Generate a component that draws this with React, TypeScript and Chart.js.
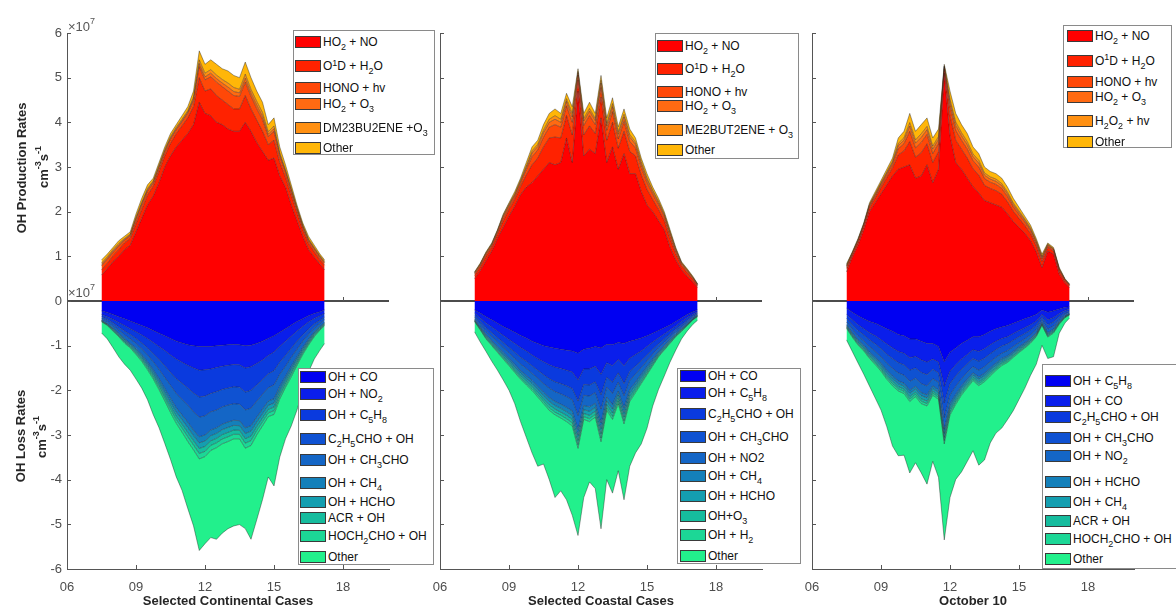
import React, { useEffect, useRef } from 'react';
import { Chart, registerables } from 'chart.js';
Chart.register(...registerables);

const FONT = '"Liberation Sans", Arial, Helvetica, sans-serif';

// ---------------- shared axes ----------------
const TIME_H = [7.5, 7.75, 8, 8.25, 8.5, 8.75, 9, 9.25, 9.5, 9.75, 10, 10.25, 10.5, 10.75, 11, 11.25, 11.5, 11.75, 12, 12.25, 12.5, 12.75, 13, 13.25, 13.5, 13.75, 14, 14.25, 14.5, 14.75, 15, 15.25, 15.5, 15.75, 16, 16.25, 16.5, 16.75, 17, 17.2];
const X_TICKS = [6, 9, 12, 15, 18];
const X_TICK_LABELS = ['06', '09', '12', '15', '18'];
const Y_TICKS = [-6, -5, -4, -3, -2, -1, 0, 1, 2, 3, 4, 5, 6];

// ---------------- Selected Continental Cases (x1e7 cm-3 s-1) ----------------
const CONT_P_HO2NO = [0.58, 0.72, 0.88, 1.0, 1.15, 1.25, 1.55, 1.85, 2.15, 2.35, 2.65, 3.0, 3.25, 3.45, 3.6, 3.75, 3.95, 4.45, 4.2, 4.15, 4.0, 3.95, 3.85, 3.8, 3.8, 4.0, 3.8, 3.55, 3.35, 3.15, 3.2, 2.8, 2.55, 2.15, 1.8, 1.45, 1.15, 0.98, 0.82, 0.7];
const CONT_P_O1D = [0.12, 0.12, 0.13, 0.15, 0.15, 0.15, 0.18, 0.2, 0.22, 0.22, 0.25, 0.25, 0.28, 0.3, 0.32, 0.35, 0.4, 0.55, 0.5, 0.6, 0.6, 0.55, 0.55, 0.5, 0.5, 0.6, 0.5, 0.5, 0.45, 0.35, 0.4, 0.3, 0.22, 0.22, 0.18, 0.15, 0.14, 0.12, 0.1, 0.1];
const CONT_P_HONO = [0.09, 0.09, 0.08, 0.08, 0.06, 0.06, 0.09, 0.1, 0.09, 0.07, 0.08, 0.08, 0.09, 0.08, 0.09, 0.1, 0.14, 0.25, 0.25, 0.27, 0.3, 0.3, 0.3, 0.3, 0.28, 0.3, 0.28, 0.26, 0.26, 0.18, 0.2, 0.14, 0.11, 0.09, 0.07, 0.06, 0.06, 0.06, 0.05, 0.05];
const CONT_P_HO2O3 = [0.03, 0.03, 0.03, 0.03, 0.02, 0.02, 0.03, 0.03, 0.03, 0.03, 0.03, 0.03, 0.03, 0.03, 0.03, 0.03, 0.04, 0.07, 0.07, 0.08, 0.08, 0.08, 0.09, 0.09, 0.08, 0.09, 0.08, 0.08, 0.08, 0.05, 0.06, 0.04, 0.03, 0.03, 0.02, 0.02, 0.02, 0.02, 0.02, 0.02];
const CONT_P_DM23 = [0.03, 0.03, 0.03, 0.03, 0.02, 0.02, 0.03, 0.03, 0.03, 0.02, 0.03, 0.03, 0.03, 0.03, 0.03, 0.03, 0.04, 0.08, 0.08, 0.08, 0.08, 0.08, 0.09, 0.09, 0.08, 0.09, 0.08, 0.08, 0.08, 0.06, 0.06, 0.04, 0.03, 0.03, 0.02, 0.02, 0.02, 0.02, 0.02, 0.02];
const CONT_P_OTHER = [0.07, 0.06, 0.05, 0.06, 0.05, 0.05, 0.07, 0.09, 0.08, 0.06, 0.06, 0.06, 0.07, 0.06, 0.08, 0.09, 0.13, 0.2, 0.2, 0.22, 0.24, 0.24, 0.27, 0.27, 0.26, 0.27, 0.26, 0.23, 0.23, 0.16, 0.18, 0.13, 0.11, 0.08, 0.06, 0.05, 0.06, 0.05, 0.04, 0.03];

const CONT_L_CO = [0.22, 0.26, 0.3, 0.35, 0.4, 0.45, 0.5, 0.55, 0.6, 0.66, 0.72, 0.78, 0.84, 0.9, 0.94, 0.98, 1.0, 1.02, 1.02, 1.02, 1.0, 0.99, 0.98, 0.97, 0.98, 1.0, 0.99, 0.95, 0.9, 0.84, 0.78, 0.7, 0.62, 0.54, 0.46, 0.4, 0.33, 0.28, 0.24, 0.2];
const CONT_L_NO2 = [0.08, 0.09, 0.11, 0.13, 0.15, 0.17, 0.19, 0.21, 0.24, 0.27, 0.3, 0.33, 0.37, 0.4, 0.43, 0.46, 0.5, 0.53, 0.52, 0.5, 0.49, 0.47, 0.46, 0.45, 0.45, 0.5, 0.48, 0.45, 0.42, 0.38, 0.36, 0.32, 0.28, 0.25, 0.21, 0.17, 0.14, 0.11, 0.09, 0.08];
const CONT_L_C5H8 = [0.05, 0.06, 0.08, 0.1, 0.12, 0.13, 0.15, 0.18, 0.21, 0.25, 0.29, 0.34, 0.39, 0.44, 0.47, 0.51, 0.56, 0.6, 0.59, 0.55, 0.54, 0.52, 0.51, 0.5, 0.5, 0.54, 0.53, 0.48, 0.44, 0.41, 0.42, 0.35, 0.32, 0.27, 0.23, 0.19, 0.16, 0.12, 0.1, 0.08];
const CONT_L_C2H5CHO = [0.04, 0.045, 0.06, 0.07, 0.09, 0.1, 0.11, 0.13, 0.16, 0.18, 0.22, 0.26, 0.29, 0.33, 0.36, 0.38, 0.42, 0.45, 0.44, 0.41, 0.41, 0.39, 0.38, 0.38, 0.38, 0.4, 0.4, 0.36, 0.33, 0.31, 0.32, 0.27, 0.24, 0.2, 0.18, 0.14, 0.12, 0.09, 0.07, 0.06];
const CONT_L_CH3CHO = [0.035, 0.045, 0.055, 0.07, 0.085, 0.1, 0.11, 0.13, 0.15, 0.18, 0.21, 0.25, 0.29, 0.32, 0.35, 0.38, 0.41, 0.44, 0.43, 0.41, 0.4, 0.39, 0.38, 0.37, 0.37, 0.4, 0.39, 0.36, 0.33, 0.3, 0.31, 0.27, 0.23, 0.2, 0.17, 0.14, 0.11, 0.09, 0.07, 0.06];
const CONT_L_CH4 = [0.012, 0.014, 0.02, 0.023, 0.028, 0.028, 0.038, 0.042, 0.05, 0.057, 0.068, 0.077, 0.088, 0.096, 0.107, 0.12, 0.123, 0.137, 0.134, 0.126, 0.123, 0.121, 0.121, 0.115, 0.112, 0.126, 0.123, 0.11, 0.104, 0.097, 0.097, 0.079, 0.068, 0.066, 0.053, 0.044, 0.035, 0.031, 0.022, 0.02];
const CONT_L_HCHO = [0.01, 0.012, 0.018, 0.02, 0.025, 0.025, 0.035, 0.038, 0.045, 0.052, 0.062, 0.07, 0.08, 0.088, 0.098, 0.11, 0.112, 0.125, 0.122, 0.115, 0.112, 0.11, 0.11, 0.105, 0.102, 0.115, 0.112, 0.1, 0.095, 0.088, 0.088, 0.072, 0.062, 0.06, 0.048, 0.04, 0.032, 0.028, 0.02, 0.018];
const CONT_L_ACR = [0.009, 0.011, 0.016, 0.018, 0.023, 0.023, 0.032, 0.035, 0.041, 0.047, 0.056, 0.063, 0.072, 0.079, 0.088, 0.099, 0.1, 0.112, 0.11, 0.103, 0.1, 0.099, 0.099, 0.094, 0.092, 0.103, 0.1, 0.09, 0.085, 0.079, 0.079, 0.065, 0.056, 0.054, 0.043, 0.036, 0.029, 0.025, 0.018, 0.016];
const CONT_L_HOCH2CHO = [0.009, 0.011, 0.016, 0.019, 0.024, 0.024, 0.033, 0.036, 0.044, 0.05, 0.06, 0.068, 0.078, 0.085, 0.095, 0.106, 0.11, 0.122, 0.118, 0.112, 0.11, 0.107, 0.107, 0.102, 0.1, 0.112, 0.11, 0.098, 0.093, 0.086, 0.086, 0.07, 0.06, 0.058, 0.047, 0.039, 0.031, 0.027, 0.019, 0.017];
const CONT_L_OTHER = [0.25, 0.3, 0.37, 0.45, 0.47, 0.5, 0.55, 0.6, 0.67, 0.8, 0.85, 0.95, 1.05, 1.2, 1.3, 1.5, 1.7, 2.05, 1.95, 1.95, 2.05, 2.0, 1.95, 1.95, 1.92, 1.8, 2.1, 1.9, 1.65, 1.35, 1.6, 1.3, 1.15, 1.1, 1.0, 0.8, 0.6, 0.5, 0.45, 0.4];

// ---------------- Selected Coastal Cases ----------------
const COAST_P_HO2NO = [0.5, 0.68, 0.9, 1.12, 1.4, 1.65, 1.9, 2.12, 2.38, 2.55, 2.65, 2.8, 2.95, 3.1, 3.05, 3.1, 3.65, 3.1, 4.7, 3.25, 3.4, 3.3, 4.1, 3.1, 3.45, 2.95, 3.3, 2.85, 2.85, 2.45, 2.15, 2.0, 1.8, 1.6, 1.2, 0.92, 0.7, 0.55, 0.42, 0.3];
const COAST_P_O1D = [0.07, 0.08, 0.1, 0.09, 0.1, 0.15, 0.15, 0.16, 0.18, 0.27, 0.4, 0.4, 0.5, 0.55, 0.62, 0.55, 0.5, 0.62, 0.25, 0.47, 0.52, 0.45, 0.47, 0.5, 0.55, 0.47, 0.5, 0.5, 0.4, 0.37, 0.35, 0.27, 0.25, 0.2, 0.2, 0.14, 0.09, 0.08, 0.06, 0.04];
const COAST_P_HONO = [0.04, 0.04, 0.05, 0.04, 0.05, 0.07, 0.07, 0.07, 0.08, 0.12, 0.18, 0.18, 0.22, 0.24, 0.28, 0.24, 0.22, 0.28, 0.11, 0.21, 0.23, 0.2, 0.21, 0.22, 0.24, 0.21, 0.22, 0.22, 0.18, 0.17, 0.15, 0.12, 0.11, 0.09, 0.09, 0.06, 0.04, 0.04, 0.03, 0.02];
const COAST_P_HO2O3 = [0.02, 0.02, 0.02, 0.02, 0.02, 0.03, 0.03, 0.03, 0.04, 0.05, 0.08, 0.08, 0.1, 0.11, 0.12, 0.11, 0.1, 0.12, 0.05, 0.1, 0.1, 0.09, 0.1, 0.1, 0.11, 0.1, 0.1, 0.1, 0.08, 0.08, 0.07, 0.06, 0.05, 0.04, 0.04, 0.03, 0.02, 0.02, 0.01, 0.01];
const COAST_P_ME2 = [0.01, 0.01, 0.01, 0.01, 0.01, 0.02, 0.02, 0.02, 0.02, 0.03, 0.05, 0.05, 0.06, 0.07, 0.08, 0.07, 0.06, 0.08, 0.03, 0.06, 0.06, 0.05, 0.06, 0.06, 0.07, 0.06, 0.06, 0.06, 0.05, 0.05, 0.04, 0.03, 0.03, 0.02, 0.02, 0.02, 0.01, 0.01, 0.01, 0.005];
const COAST_P_OTHER = [0.01, 0.02, 0.02, 0.02, 0.02, 0.03, 0.03, 0.05, 0.05, 0.08, 0.09, 0.09, 0.12, 0.13, 0.15, 0.13, 0.12, 0.15, 0.06, 0.11, 0.14, 0.11, 0.11, 0.12, 0.13, 0.11, 0.12, 0.12, 0.09, 0.08, 0.09, 0.07, 0.06, 0.05, 0.05, 0.03, 0.02, 0.02, 0.02, 0.01];

const COAST_L_CO = [0.2, 0.27, 0.35, 0.42, 0.5, 0.57, 0.63, 0.7, 0.77, 0.83, 0.9, 0.95, 1.0, 1.03, 1.06, 1.08, 1.1, 1.12, 1.17, 1.08, 1.06, 1.02, 1.05, 0.97, 0.98, 0.93, 0.95, 0.9, 0.87, 0.83, 0.78, 0.72, 0.66, 0.6, 0.54, 0.46, 0.38, 0.3, 0.24, 0.2];
const COAST_L_C5H8 = [0.07, 0.11, 0.14, 0.16, 0.18, 0.2, 0.23, 0.25, 0.27, 0.29, 0.31, 0.34, 0.36, 0.4, 0.42, 0.43, 0.45, 0.47, 0.6, 0.44, 0.46, 0.44, 0.59, 0.41, 0.47, 0.38, 0.5, 0.38, 0.33, 0.29, 0.24, 0.2, 0.17, 0.14, 0.11, 0.1, 0.08, 0.07, 0.05, 0.04];
const COAST_L_C2H5CHO = [0.06, 0.08, 0.11, 0.13, 0.14, 0.16, 0.18, 0.2, 0.22, 0.23, 0.24, 0.26, 0.29, 0.31, 0.33, 0.34, 0.35, 0.37, 0.47, 0.35, 0.36, 0.35, 0.46, 0.33, 0.37, 0.3, 0.4, 0.3, 0.26, 0.22, 0.19, 0.16, 0.13, 0.11, 0.09, 0.07, 0.07, 0.06, 0.04, 0.03];
const COAST_L_CH3CHO = [0.04, 0.06, 0.08, 0.09, 0.1, 0.11, 0.12, 0.14, 0.15, 0.16, 0.17, 0.18, 0.2, 0.21, 0.22, 0.23, 0.24, 0.25, 0.32, 0.24, 0.25, 0.24, 0.32, 0.22, 0.25, 0.21, 0.27, 0.2, 0.18, 0.15, 0.13, 0.11, 0.09, 0.08, 0.06, 0.05, 0.05, 0.04, 0.03, 0.02];
const COAST_L_NO2 = [0.04, 0.06, 0.07, 0.09, 0.1, 0.11, 0.12, 0.13, 0.15, 0.16, 0.16, 0.18, 0.19, 0.21, 0.22, 0.23, 0.24, 0.25, 0.32, 0.23, 0.24, 0.24, 0.31, 0.22, 0.25, 0.2, 0.27, 0.2, 0.18, 0.15, 0.13, 0.11, 0.09, 0.07, 0.06, 0.05, 0.04, 0.04, 0.03, 0.02];
const COAST_L_CH4 = [0.015, 0.02, 0.03, 0.033, 0.04, 0.045, 0.05, 0.055, 0.057, 0.063, 0.066, 0.072, 0.078, 0.087, 0.09, 0.093, 0.096, 0.1, 0.126, 0.093, 0.1, 0.093, 0.126, 0.09, 0.1, 0.084, 0.108, 0.081, 0.07, 0.063, 0.054, 0.045, 0.033, 0.03, 0.027, 0.021, 0.018, 0.012, 0.009, 0.012];
const COAST_L_HCHO = [0.013, 0.019, 0.027, 0.03, 0.035, 0.04, 0.046, 0.049, 0.051, 0.057, 0.059, 0.065, 0.07, 0.078, 0.081, 0.084, 0.086, 0.092, 0.113, 0.084, 0.089, 0.084, 0.113, 0.081, 0.089, 0.076, 0.097, 0.073, 0.062, 0.057, 0.049, 0.04, 0.03, 0.027, 0.024, 0.019, 0.016, 0.011, 0.008, 0.011];
const COAST_L_O3 = [0.012, 0.016, 0.023, 0.025, 0.03, 0.035, 0.039, 0.041, 0.044, 0.048, 0.051, 0.055, 0.06, 0.067, 0.069, 0.071, 0.074, 0.078, 0.097, 0.071, 0.076, 0.071, 0.097, 0.069, 0.076, 0.064, 0.083, 0.062, 0.053, 0.048, 0.041, 0.035, 0.025, 0.023, 0.021, 0.016, 0.014, 0.009, 0.007, 0.009];
const COAST_L_H2 = [0.01, 0.014, 0.02, 0.022, 0.026, 0.03, 0.034, 0.036, 0.038, 0.042, 0.044, 0.048, 0.052, 0.058, 0.06, 0.062, 0.064, 0.068, 0.084, 0.062, 0.066, 0.062, 0.084, 0.06, 0.066, 0.056, 0.072, 0.054, 0.046, 0.042, 0.036, 0.03, 0.022, 0.02, 0.018, 0.014, 0.012, 0.008, 0.006, 0.008];
const COAST_L_OTHER = [0.23, 0.27, 0.28, 0.35, 0.4, 0.47, 0.55, 0.7, 0.95, 1.17, 1.4, 1.55, 1.35, 1.55, 1.85, 1.63, 1.75, 2.0, 1.95, 1.75, 1.35, 1.6, 1.95, 1.55, 1.65, 1.5, 1.7, 1.45, 1.35, 1.35, 1.2, 0.9, 0.73, 0.58, 0.42, 0.3, 0.17, 0.12, 0.1, 0.08];

// ---------------- October 10 ----------------
const OCT_P_HO2NO = [0.65, 0.98, 1.25, 1.6, 2.0, 2.2, 2.4, 2.6, 2.8, 2.95, 3.0, 3.05, 2.75, 2.8, 3.05, 2.65, 2.95, 5.1, 3.7, 3.1, 2.95, 2.75, 2.56, 2.42, 2.25, 2.2, 2.15, 2.1, 1.95, 1.78, 1.65, 1.52, 1.35, 1.1, 0.75, 1.12, 1.05, 0.6, 0.4, 0.3];
const OCT_P_O1D = [0.08, 0.05, 0.07, 0.07, 0.09, 0.11, 0.14, 0.16, 0.18, 0.32, 0.36, 0.52, 0.47, 0.52, 0.47, 0.45, 0.4, 0.09, 0.45, 0.5, 0.45, 0.45, 0.4, 0.4, 0.34, 0.32, 0.32, 0.29, 0.27, 0.23, 0.2, 0.17, 0.16, 0.14, 0.14, 0.08, 0.07, 0.07, 0.05, 0.04];
const OCT_P_HONO = [0.04, 0.03, 0.03, 0.03, 0.04, 0.05, 0.06, 0.07, 0.08, 0.14, 0.16, 0.23, 0.21, 0.23, 0.21, 0.2, 0.18, 0.04, 0.2, 0.22, 0.2, 0.2, 0.18, 0.18, 0.15, 0.14, 0.14, 0.13, 0.12, 0.1, 0.09, 0.08, 0.07, 0.06, 0.06, 0.04, 0.03, 0.03, 0.02, 0.015];
const OCT_P_HO2O3 = [0.02, 0.01, 0.015, 0.015, 0.02, 0.025, 0.03, 0.035, 0.04, 0.07, 0.08, 0.115, 0.105, 0.115, 0.105, 0.1, 0.09, 0.02, 0.1, 0.11, 0.1, 0.1, 0.09, 0.09, 0.075, 0.07, 0.07, 0.065, 0.06, 0.05, 0.045, 0.04, 0.035, 0.03, 0.03, 0.02, 0.015, 0.015, 0.01, 0.008];
const OCT_P_H2O2 = [0.01, 0.01, 0.01, 0.01, 0.014, 0.018, 0.02, 0.025, 0.028, 0.05, 0.056, 0.08, 0.074, 0.08, 0.074, 0.07, 0.063, 0.014, 0.07, 0.077, 0.07, 0.07, 0.062, 0.062, 0.052, 0.05, 0.05, 0.045, 0.042, 0.036, 0.032, 0.027, 0.025, 0.021, 0.021, 0.013, 0.01, 0.01, 0.007, 0.006];
const OCT_P_OTHER = [0.03, 0.02, 0.025, 0.025, 0.036, 0.047, 0.05, 0.06, 0.072, 0.12, 0.144, 0.205, 0.19, 0.205, 0.19, 0.18, 0.167, 0.036, 0.18, 0.193, 0.18, 0.18, 0.158, 0.148, 0.133, 0.12, 0.12, 0.12, 0.108, 0.104, 0.083, 0.063, 0.06, 0.049, 0.049, 0.027, 0.025, 0.025, 0.013, 0.011];

const OCT_L_C5H8 = [0.16, 0.25, 0.33, 0.4, 0.46, 0.5, 0.56, 0.62, 0.68, 0.75, 0.78, 0.85, 0.85, 0.9, 0.95, 0.95, 1.02, 1.36, 1.15, 1.05, 0.95, 0.88, 0.8, 0.8, 0.75, 0.68, 0.62, 0.58, 0.55, 0.5, 0.45, 0.4, 0.35, 0.3, 0.2, 0.25, 0.22, 0.18, 0.14, 0.13];
const OCT_L_CO = [0.14, 0.17, 0.2, 0.22, 0.25, 0.28, 0.31, 0.34, 0.37, 0.38, 0.39, 0.42, 0.39, 0.42, 0.42, 0.35, 0.35, 0.55, 0.42, 0.38, 0.35, 0.32, 0.29, 0.33, 0.32, 0.3, 0.28, 0.26, 0.25, 0.23, 0.21, 0.2, 0.18, 0.15, 0.1, 0.17, 0.15, 0.1, 0.07, 0.05];
const OCT_L_C2H5CHO = [0.09, 0.11, 0.13, 0.14, 0.16, 0.18, 0.2, 0.23, 0.24, 0.25, 0.26, 0.28, 0.26, 0.28, 0.28, 0.23, 0.24, 0.37, 0.28, 0.25, 0.23, 0.21, 0.2, 0.22, 0.21, 0.2, 0.19, 0.17, 0.16, 0.15, 0.14, 0.13, 0.12, 0.1, 0.07, 0.11, 0.1, 0.07, 0.05, 0.04];
const OCT_L_CH3CHO = [0.08, 0.1, 0.12, 0.13, 0.15, 0.17, 0.18, 0.2, 0.22, 0.23, 0.23, 0.25, 0.23, 0.25, 0.25, 0.21, 0.21, 0.33, 0.25, 0.23, 0.21, 0.19, 0.18, 0.2, 0.19, 0.18, 0.17, 0.16, 0.15, 0.14, 0.13, 0.12, 0.11, 0.09, 0.06, 0.1, 0.09, 0.06, 0.04, 0.03];
const OCT_L_NO2 = [0.06, 0.08, 0.09, 0.1, 0.12, 0.13, 0.14, 0.16, 0.17, 0.18, 0.18, 0.2, 0.18, 0.2, 0.2, 0.16, 0.17, 0.26, 0.2, 0.18, 0.16, 0.15, 0.14, 0.15, 0.15, 0.14, 0.13, 0.12, 0.12, 0.11, 0.1, 0.09, 0.08, 0.07, 0.05, 0.08, 0.07, 0.05, 0.03, 0.03];
const OCT_L_HCHO = [0.023, 0.028, 0.033, 0.036, 0.041, 0.046, 0.051, 0.057, 0.061, 0.063, 0.065, 0.07, 0.065, 0.07, 0.07, 0.059, 0.059, 0.092, 0.07, 0.063, 0.058, 0.054, 0.049, 0.055, 0.053, 0.05, 0.047, 0.044, 0.041, 0.038, 0.035, 0.033, 0.03, 0.025, 0.018, 0.028, 0.025, 0.017, 0.012, 0.009];
const OCT_L_CH4 = [0.022, 0.027, 0.032, 0.036, 0.04, 0.045, 0.05, 0.056, 0.06, 0.062, 0.064, 0.069, 0.064, 0.069, 0.069, 0.058, 0.058, 0.09, 0.069, 0.062, 0.057, 0.053, 0.048, 0.054, 0.052, 0.049, 0.046, 0.043, 0.04, 0.037, 0.034, 0.032, 0.029, 0.024, 0.017, 0.027, 0.024, 0.016, 0.011, 0.009];
const OCT_L_ACR = [0.018, 0.022, 0.026, 0.029, 0.033, 0.037, 0.041, 0.045, 0.049, 0.05, 0.052, 0.056, 0.052, 0.056, 0.056, 0.047, 0.047, 0.074, 0.056, 0.05, 0.046, 0.043, 0.039, 0.044, 0.042, 0.04, 0.037, 0.035, 0.033, 0.03, 0.028, 0.026, 0.024, 0.02, 0.014, 0.022, 0.02, 0.014, 0.01, 0.007];
const OCT_L_HOCH2CHO = [0.018, 0.021, 0.025, 0.028, 0.032, 0.036, 0.04, 0.044, 0.048, 0.05, 0.051, 0.055, 0.051, 0.055, 0.055, 0.046, 0.046, 0.073, 0.055, 0.049, 0.045, 0.042, 0.038, 0.043, 0.041, 0.039, 0.036, 0.034, 0.032, 0.03, 0.027, 0.025, 0.023, 0.019, 0.014, 0.021, 0.019, 0.013, 0.009, 0.007];
const OCT_L_OTHER = [0.26, 0.32, 0.4, 0.52, 0.62, 0.75, 0.87, 1.06, 1.35, 1.45, 1.38, 1.6, 1.48, 1.55, 1.75, 1.48, 1.75, 2.15, 1.85, 1.68, 1.72, 1.65, 1.57, 1.78, 1.75, 1.5, 1.4, 1.4, 1.28, 1.19, 1.05, 0.9, 0.72, 0.62, 0.45, 0.48, 0.53, 0.2, 0.12, 0.07];

// ---------------- labels ----------------
const CONT_PROD_LABELS = ['HO_{2} + NO', 'O^{1}D + H_{2}O', 'HONO + hv', 'HO_{2} + O_{3}', 'DM23BU2ENE +O_{3}', 'Other'];
const CONT_LOSS_LABELS = ['OH + CO', 'OH + NO_{2}', 'OH + C_{5}H_{8}', 'C_{2}H_{5}CHO + OH', 'OH + CH_{3}CHO', 'OH + CH_{4}', 'OH + HCHO', 'ACR + OH', 'HOCH_{2}CHO + OH', 'Other'];
const COAST_PROD_LABELS = ['HO_{2} + NO', 'O^{1}D + H_{2}O', 'HONO + hv', 'HO_{2} + O_{3}', 'ME2BUT2ENE + O_{3}', 'Other'];
const COAST_LOSS_LABELS = ['OH + CO', 'OH + C_{5}H_{8}', 'C_{2}H_{5}CHO + OH', 'OH + CH_{3}CHO', 'OH + NO2', 'OH + CH_{4}', 'OH + HCHO', 'OH+O_{3}', 'OH + H_{2}', 'Other'];
const OCT_PROD_LABELS = ['HO_{2} + NO', 'O^{1}D + H_{2}O', 'HONO + hv', 'HO_{2} + O_{3}', 'H_{2}O_{2} + hv', 'Other'];
const OCT_LOSS_LABELS = ['OH + C_{5}H_{8}', 'OH + CO', 'C_{2}H_{5}CHO + OH', 'OH + CH_{3}CHO', 'OH + NO_{2}', 'OH + HCHO', 'OH + CH_{4}', 'ACR + OH', 'HOCH_{2}CHO + OH', 'Other'];

const PROD_COLORS = ['#FF0000', '#FF2200', '#FF4808', '#FF6A12', '#FF9012', '#FFB608'];
const LOSS_COLORS = ['#0000F2', '#0A1EEB', '#0A3ADE', '#0F52D2', '#1466C6', '#1480BA', '#149EB0', '#16BC9E', '#1CD796', '#22F08C'];
const EDGE = 'rgba(20,20,20,0.65)';

type Box = { x: number; y: number; w: number; h: number };
type PanelDef = {
  left: number; width: number; yAxisW: number; rightPad: number; xTitle: string; first: boolean;
  prod: number[][]; loss: number[][]; prodLabels: string[]; lossLabels: string[];
  prodBox: Box; prodRows: number[]; prodSwatchX: number;
  lossBox: Box; lossRows: number[]; lossSwatchX: number;
};

const PANELS: PanelDef[] = [
  {
    left: 0, width: 400, yAxisW: 67, rightPad: 11, xTitle: 'Selected Continental Cases', first: true,
    prod: [CONT_P_HO2NO, CONT_P_O1D, CONT_P_HONO, CONT_P_HO2O3, CONT_P_DM23, CONT_P_OTHER],
    loss: [CONT_L_CO, CONT_L_NO2, CONT_L_C5H8, CONT_L_C2H5CHO, CONT_L_CH3CHO, CONT_L_CH4, CONT_L_HCHO, CONT_L_ACR, CONT_L_HOCH2CHO, CONT_L_OTHER],
    prodLabels: CONT_PROD_LABELS, lossLabels: CONT_LOSS_LABELS,
    prodBox: { x: 293, y: 30, w: 142, h: 125 }, prodRows: [42, 66, 87.5, 104, 127.5, 147.5], prodSwatchX: 295,
    lossBox: { x: 298, y: 368, w: 136, h: 197 }, lossRows: [377, 394, 415, 438.5, 460, 482.5, 501.5, 518, 536, 556.5], lossSwatchX: 300,
  },
  {
    left: 400, width: 376, yAxisW: 40, rightPad: 14, xTitle: 'Selected Coastal Cases', first: false,
    prod: [COAST_P_HO2NO, COAST_P_O1D, COAST_P_HONO, COAST_P_HO2O3, COAST_P_ME2, COAST_P_OTHER],
    loss: [COAST_L_CO, COAST_L_C5H8, COAST_L_C2H5CHO, COAST_L_CH3CHO, COAST_L_NO2, COAST_L_CH4, COAST_L_HCHO, COAST_L_O3, COAST_L_H2, COAST_L_OTHER],
    prodLabels: COAST_PROD_LABELS, lossLabels: COAST_LOSS_LABELS,
    prodBox: { x: 655, y: 33, w: 144, h: 126 }, prodRows: [45.5, 69, 91.5, 106, 129.5, 150], prodSwatchX: 657,
    lossBox: { x: 677, y: 368, w: 124, h: 196 }, lossRows: [376, 392.5, 414, 436.5, 457.5, 475.5, 496, 515.5, 535, 556], lossSwatchX: 680,
  },
  {
    left: 776, width: 400, yAxisW: 36, rightPad: 42, xTitle: 'October 10', first: false,
    prod: [OCT_P_HO2NO, OCT_P_O1D, OCT_P_HONO, OCT_P_HO2O3, OCT_P_H2O2, OCT_P_OTHER],
    loss: [OCT_L_C5H8, OCT_L_CO, OCT_L_C2H5CHO, OCT_L_CH3CHO, OCT_L_NO2, OCT_L_HCHO, OCT_L_CH4, OCT_L_ACR, OCT_L_HOCH2CHO, OCT_L_OTHER],
    prodLabels: OCT_PROD_LABELS, lossLabels: OCT_LOSS_LABELS,
    prodBox: { x: 1063, y: 25, w: 109, h: 123 }, prodRows: [36, 60.5, 82, 96.5, 120.5, 141.5], prodSwatchX: 1067,
    lossBox: { x: 1042, y: 364, w: 140, h: 205 }, lossRows: [381, 400.5, 417, 438, 456, 482, 501.5, 520.5, 538.5, 559], lossSwatchX: 1045,
  },
];

const plain = (s: string) => s.replace(/[_^]\{([^}]*)\}/g, '$1');

function drawParts(ctx: CanvasRenderingContext2D, cx: number, cy: number, parts: [string, boolean][], size: number, bold: boolean, rotate: boolean, color: string) {
  const w = bold ? 'bold ' : '';
  const big = `${w}${size}px ${FONT}`;
  const small = `${w}${Math.round(size * 0.72)}px ${FONT}`;
  const widths = parts.map(([t, sup]) => { ctx.font = sup ? small : big; return ctx.measureText(t).width; });
  const total = widths.reduce((a, b) => a + b, 0);
  ctx.save();
  ctx.translate(cx, cy);
  if (rotate) ctx.rotate(-Math.PI / 2);
  ctx.fillStyle = color;
  ctx.textBaseline = 'middle';
  ctx.textAlign = 'left';
  let x = rotate ? -total / 2 : 0;
  parts.forEach(([t, sup], i) => {
    ctx.font = sup ? small : big;
    ctx.fillText(t, x, sup ? -size * 0.42 : 0);
    x += widths[i];
  });
  ctx.restore();
}

function makeDecor(panel: PanelDef) {
  return {
    id: 'decor',
    beforeDatasetsDraw(chart: any) {
      const { ctx, chartArea, scales } = chart;
      const y0 = Math.round(scales.y.getPixelForValue(0));
      ctx.save();
      ctx.strokeStyle = '#111';
      ctx.lineWidth = 1.6;
      ctx.beginPath();
      ctx.moveTo(chartArea.left, y0);
      ctx.lineTo(chartArea.right, y0);
      ctx.stroke();
      ctx.lineWidth = 1;
      ctx.strokeStyle = '#555';
      X_TICKS.forEach((v) => {
        const x = Math.round(scales.x.getPixelForValue(v)) + 0.5;
        ctx.beginPath();
        ctx.moveTo(x, y0);
        ctx.lineTo(x, y0 - 4);
        ctx.stroke();
      });
      ctx.restore();
    },
    afterDraw(chart: any) {
      const { ctx, chartArea, scales } = chart;
      ctx.save();
      ctx.strokeStyle = '#555';
      ctx.lineWidth = 1;
      Y_TICKS.forEach((v) => {
        const y = Math.round(scales.y.getPixelForValue(v)) + 0.5;
        ctx.beginPath();
        ctx.moveTo(chartArea.left, y);
        ctx.lineTo(chartArea.left + 4, y);
        ctx.stroke();
      });
      X_TICKS.forEach((v) => {
        const x = Math.round(scales.x.getPixelForValue(v)) + 0.5;
        ctx.beginPath();
        ctx.moveTo(x, chartArea.bottom);
        ctx.lineTo(x, chartArea.bottom - 4);
        ctx.stroke();
      });
      ctx.restore();
      // x title
      ctx.save();
      ctx.font = `bold 13px ${FONT}`;
      ctx.fillStyle = '#262626';
      ctx.textAlign = 'center';
      ctx.textBaseline = 'middle';
      ctx.fillText(panel.xTitle, (chartArea.left + chartArea.right) / 2, 601);
      ctx.restore();
      if (panel.first) {
        drawParts(ctx, 22, 168, [['OH Production Rates', false]], 13, true, true, '#262626');
        drawParts(ctx, 44, 167, [['cm', false], ['-3', true], ['s', false], ['-1', true]], 13, true, true, '#262626');
        drawParts(ctx, 21, 436, [['OH Loss Rates', false]], 13, true, true, '#262626');
        drawParts(ctx, 42, 437, [['cm', false], ['-3', true], ['s', false], ['-1', true]], 13, true, true, '#262626');
        drawParts(ctx, 68, 27, [['\u00d710', false], ['7', true]], 13, false, false, '#555');
        drawParts(ctx, 68, 293, [['\u00d710', false], ['7', true]], 13, false, false, '#555');
      }
    },
  };
}

function PanelChart({ panel }: { panel: PanelDef }) {
  const ref = useRef<HTMLCanvasElement>(null);
  useEffect(() => {
    const datasets: any[] = [];
    panel.prod.forEach((vals, i) => {
      datasets.push({
        label: plain(panel.prodLabels[i]),
        data: TIME_H.map((t, k) => ({ x: t, y: vals[k] })),
        backgroundColor: PROD_COLORS[i],
        borderColor: EDGE,
        borderWidth: 0.6,
        pointRadius: 0,
        tension: 0,
        fill: i === 0 ? 'origin' : '-1',
        stack: 'rates',
      });
    });
    panel.loss.forEach((vals, i) => {
      datasets.push({
        label: plain(panel.lossLabels[i]),
        data: TIME_H.map((t, k) => ({ x: t, y: -vals[k] })),
        backgroundColor: LOSS_COLORS[i],
        borderColor: EDGE,
        borderWidth: 0.6,
        pointRadius: 0,
        tension: 0,
        fill: i === 0 ? 'origin' : '-1',
        stack: 'rates',
      });
    });
    const chart = new Chart(ref.current as HTMLCanvasElement, {
      type: 'line',
      data: { datasets },
      options: {
        animation: false,
        responsive: false,
        devicePixelRatio: 1,
        events: [],
        layout: { padding: { top: 33, right: panel.rightPad, bottom: 0, left: 0 } },
        plugins: { legend: { display: false }, tooltip: { enabled: false }, title: { display: false } },
        scales: {
          x: {
            type: 'linear',
            min: 6,
            max: 20,
            grid: { display: false, drawTicks: false },
            border: { display: true, color: '#555', width: 1 },
            afterBuildTicks: (s: any) => { s.ticks = X_TICKS.map((v) => ({ value: v })); },
            afterFit: (s: any) => { s.height = 40; },
            ticks: {
              autoSkip: false,
              maxRotation: 0,
              padding: 11,
              color: '#4d4d4d',
              font: { family: FONT, size: 13 },
              callback: (v: any) => { const i = X_TICKS.indexOf(Number(v)); return i >= 0 ? X_TICK_LABELS[i] : ''; },
            },
          },
          y: {
            type: 'linear',
            stacked: true,
            min: -6,
            max: 6,
            grid: { display: false, drawTicks: false },
            border: { display: true, color: '#555', width: 1 },
            afterBuildTicks: (s: any) => { s.ticks = Y_TICKS.map((v) => ({ value: v })); },
            afterFit: (s: any) => { s.width = panel.yAxisW; },
            ticks: {
              display: panel.first,
              autoSkip: false,
              padding: 5,
              color: '#4d4d4d',
              font: { family: FONT, size: 13 },
              callback: (v: any) => String(v),
            },
          },
        },
      },
      plugins: [makeDecor(panel)],
    } as any);
    return () => chart.destroy();
  }, [panel]);
  return (
    <canvas
      ref={ref}
      width={panel.width}
      height={609}
      style={{ position: 'absolute', left: panel.left, top: 0, width: panel.width, height: 609 }}
    />
  );
}

function Rich({ text }: { text: string }) {
  const out: React.ReactNode[] = [];
  const re = /([_^])\{([^}]*)\}/g;
  let last = 0;
  let k = 0;
  let m: RegExpExecArray | null;
  while ((m = re.exec(text))) {
    if (m.index > last) out.push(<span key={k++}>{text.slice(last, m.index)}</span>);
    const sub = m[1] === '_';
    out.push(
      <span key={k++} style={{ fontSize: '0.75em', position: 'relative', top: sub ? '0.45em' : '-0.5em' }}>{m[2]}</span>
    );
    last = re.lastIndex;
  }
  if (last < text.length) out.push(<span key={k++}>{text.slice(last)}</span>);
  return <>{out}</>;
}

function Legend({ box, rows, swatchX, labels, colors }: { box: Box; rows: number[]; swatchX: number; labels: string[]; colors: string[] }) {
  return (
    <>
      <div style={{ position: 'absolute', left: box.x, top: box.y, width: box.w, height: box.h, border: '1px solid #8a8a8a', background: '#fff', boxSizing: 'border-box' }} />
      {labels.map((lab, i) => (
        <React.Fragment key={i}>
          <div style={{ position: 'absolute', left: swatchX, top: rows[i] - 6, width: 26, height: 12, background: colors[i], border: '1px solid #3a3a3a', boxSizing: 'border-box' }} />
          <div style={{ position: 'absolute', left: swatchX + 28, top: rows[i] - 8, height: 16, lineHeight: '16px', fontSize: 12, fontFamily: FONT, color: '#111', whiteSpace: 'pre' }}>
            <Rich text={lab} />
          </div>
        </React.Fragment>
      ))}
    </>
  );
}

export default function App() {
  return (
    <div style={{ position: 'absolute', left: 0, top: 0, width: 1176, height: 609, overflow: 'hidden', background: '#fff' }}>
      {PANELS.map((p, i) => <PanelChart key={i} panel={p} />)}
      {PANELS.map((p, i) => (
        <React.Fragment key={'lg' + i}>
          <Legend box={p.prodBox} rows={p.prodRows} swatchX={p.prodSwatchX} labels={p.prodLabels} colors={PROD_COLORS} />
          <Legend box={p.lossBox} rows={p.lossRows} swatchX={p.lossSwatchX} labels={p.lossLabels} colors={LOSS_COLORS} />
        </React.Fragment>
      ))}
    </div>
  );
}
